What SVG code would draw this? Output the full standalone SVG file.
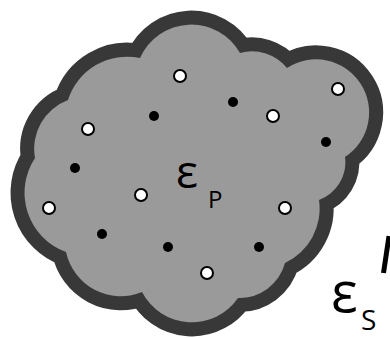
<svg xmlns="http://www.w3.org/2000/svg" width="390" height="338" viewBox="0 0 390 338">
<style>
.cloud{fill:#9a9a9a;stroke:#383838;stroke-width:28;stroke-linejoin:round;paint-order:stroke}
.w{fill:#fff;stroke:#000;stroke-width:2}
.b{fill:#000}
.t{font-family:"Open Sans","DejaVu Sans",sans-serif;fill:#000}
</style>
<rect width="390" height="338" fill="#fff"/>
<g id="particle">
<path class="cloud" d="M140 58 A56 56 0 0 1 240 53 A45 45 0 0 1 287 68 A53 53 0 1 1 345 157 A40 40 0 0 1 319 200 A60 60 0 0 1 285 263 A47 47 0 0 1 238 298 A56 56 0 0 1 142 292 A56 56 0 0 1 66 252 A63 63 0 0 1 35 158 A52 52 0 0 1 68 100 A62 62 0 0 1 140 58 Z"/>
</g>
<g id="dots">
<circle class="w" cx="180" cy="76" r="6"/>
<circle class="w" cx="338" cy="89" r="6"/>
<circle class="w" cx="273" cy="116" r="6"/>
<circle class="w" cx="88" cy="129" r="6"/>
<circle class="w" cx="141" cy="195" r="6"/>
<circle class="w" cx="49" cy="208" r="6"/>
<circle class="w" cx="285" cy="208" r="6"/>
<circle class="w" cx="207" cy="273" r="6"/>
<circle class="b" cx="154" cy="116" r="5"/>
<circle class="b" cx="233" cy="102" r="5"/>
<circle class="b" cx="326" cy="142" r="5"/>
<circle class="b" cx="75" cy="168" r="5"/>
<circle class="b" cx="102" cy="234" r="5"/>
<circle class="b" cx="168" cy="247" r="5"/>
<circle class="b" cx="259" cy="247" r="5"/>
</g>
<g id="label-p">
<text class="t" x="176" y="188" font-size="46">ε</text>
<text class="t" x="208" y="208" font-size="24">P</text>
</g>
<g id="connectors">
<line x1="389" y1="236" x2="383.5" y2="273" stroke="#000" stroke-width="5"/>
</g>
<g id="label-s">
<text class="t" x="331" y="312" font-size="56">ε</text>
<text class="t" x="361" y="330" font-size="28">S</text>
</g>
</svg>
